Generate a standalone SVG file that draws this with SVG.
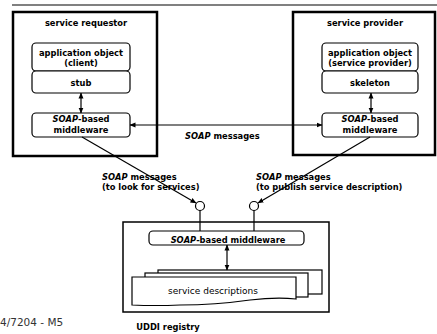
<svg xmlns="http://www.w3.org/2000/svg" width="437" height="334" viewBox="0 0 437 334">
<defs>
<marker id="ah" markerWidth="6" markerHeight="6" refX="5.5" refY="3" orient="auto-start-reverse" markerUnits="userSpaceOnUse">
<path d="M0,0.5 L6,3 L0,5.5 Z" fill="#000"/>
</marker>
</defs>
<style>
text{font-family:"DejaVu Sans","Liberation Sans",sans-serif;font-weight:bold;font-size:8.3px;fill:#000}
.c{text-anchor:middle}
.reg{font-weight:normal}
.it{font-style:italic}
.outer{fill:#fff;stroke:#000;stroke-width:2.5}
.inner{fill:#fff;stroke:#000;stroke-width:1.2}
.ln{fill:none;stroke:#000;stroke-width:1.2}
</style>
<rect width="437" height="334" fill="#fff"/>
<line x1="12" y1="5" x2="437" y2="5" stroke="#808080" stroke-width="2"/>

<g id="service-requestor">
<rect class="outer" x="13" y="12" width="144" height="144"/>
<text class="c" x="86" y="26">service requestor</text>
</g>
<g id="client-app">
<rect class="inner" x="32" y="43" width="98" height="28" rx="4"/>
<text class="c" x="81" y="56">application object</text>
<text class="c" x="81" y="66">(client)</text>
</g>
<g id="stub">
<rect class="inner" x="32" y="71" width="98" height="22" rx="4"/>
<text class="c" x="81" y="86">stub</text>
</g>
<g id="req-middleware">
<rect class="inner" x="32" y="113" width="98" height="24" rx="4"/>
<text class="c" x="81" y="122"><tspan class="it">SOAP</tspan>-based</text>
<text class="c" x="81" y="133">middleware</text>
</g>

<g id="service-provider">
<rect class="outer" x="293" y="12" width="142" height="143"/>
<text class="c" x="365" y="26">service provider</text>
</g>
<g id="provider-app">
<rect class="inner" x="322" y="43" width="96" height="28" rx="4"/>
<text class="c" x="370" y="56">application object</text>
<text class="c" x="370" y="66">(service provider)</text>
</g>
<g id="skeleton">
<rect class="inner" x="322" y="71" width="96" height="22" rx="4"/>
<text class="c" x="370" y="86">skeleton</text>
</g>
<g id="prov-middleware">
<rect class="inner" x="322" y="113" width="96" height="24" rx="4"/>
<text class="c" x="370" y="122"><tspan class="it">SOAP</tspan>-based</text>
<text class="c" x="370" y="133">middleware</text>
</g>

<g id="uddi-registry">
<rect fill="#fff" stroke="#000" stroke-width="1.5" x="123" y="222" width="206" height="90"/>
<text class="c" x="168" y="330">UDDI registry</text>
</g>
<g id="uddi-middleware">
<rect class="inner" x="149" y="231" width="155" height="14" rx="4"/>
<text class="c" x="228" y="242.5"><tspan class="it">SOAP</tspan>-based middleware</text>
</g>
<g id="service-descriptions">
<rect class="inner" x="158" y="270" width="164" height="24"/>
<rect class="inner" x="145" y="273" width="163" height="24"/>
<path class="inner" d="M132,277 H296 V299 Q276,297 250,300 Q215,305 180,305 Q155,306 132,305 Z"/>
<text class="c reg" x="213" y="294" style="font-size:9px">service descriptions</text>
</g>

<g id="interfaces">
<circle cx="200" cy="206" r="4.5" fill="#fff" stroke="#000" stroke-width="1.2"/>
<circle cx="254" cy="206" r="4.5" fill="#fff" stroke="#000" stroke-width="1.2"/>
</g>

<g id="connectors">
<line class="ln" x1="81" y1="93" x2="81" y2="113" marker-start="url(#ah)" marker-end="url(#ah)"/>
<line class="ln" x1="371" y1="93" x2="371" y2="113" marker-start="url(#ah)" marker-end="url(#ah)"/>
<line class="ln" x1="130" y1="125" x2="322" y2="125" marker-start="url(#ah)" marker-end="url(#ah)"/>
<line class="ln" x1="82" y1="137" x2="196" y2="203" marker-end="url(#ah)"/>
<line class="ln" x1="370" y1="137" x2="258" y2="203" marker-end="url(#ah)"/>
<line class="ln" x1="200" y1="210.5" x2="200" y2="231"/>
<line class="ln" x1="254" y1="210.5" x2="254" y2="231"/>
<line class="ln" x1="227" y1="245" x2="227" y2="270" marker-start="url(#ah)" marker-end="url(#ah)"/>
</g>

<g id="labels">
<text x="185" y="139"><tspan class="it">SOAP</tspan> messages</text>
<text x="102" y="180"><tspan class="it">SOAP</tspan> messages</text>
<text x="102" y="190">(to look for services)</text>
<text x="256" y="180"><tspan class="it">SOAP</tspan> messages</text>
<text x="256" y="190">(to publish service description)</text>
<text class="reg" x="0" y="326" style="font-size:10.5px;fill:#333">4/7204 - M5</text>
</g>
</svg>
